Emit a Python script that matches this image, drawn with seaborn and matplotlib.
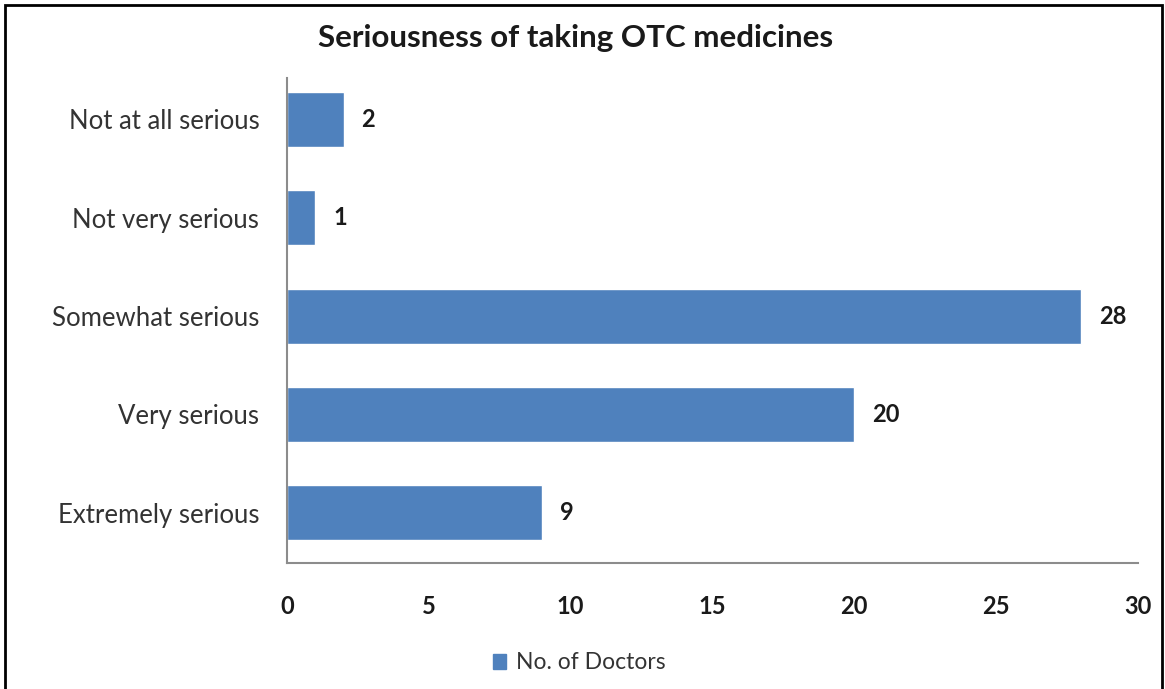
import matplotlib

matplotlib.use("Agg")
import matplotlib.pyplot as plt
import pandas as pd
import seaborn as sns
from matplotlib.patches import Rectangle

categories = [
    "Not at all serious",
    "Not very serious",
    "Somewhat serious",
    "Very serious",
    "Extremely serious",
]
doctors = [2, 1, 28, 20, 9]
x_ticks = [0, 5, 10, 15, 20, 25, 30]
series_name = "No. of Doctors"

BAR_COLOR = "#4F81BD"


def main():
    sns.set_theme(style="white")
    plt.rcParams["font.family"] = ["Lato", "DejaVu Sans"]

    df = pd.DataFrame({"category": categories, "count": doctors})

    fig = plt.figure(figsize=(11.65, 6.89), dpi=100)
    ax = fig.add_axes([0.2464, 0.1829, 0.7304, 0.7039])

    sns.barplot(
        data=df,
        x="count",
        y="category",
        order=categories,
        color=BAR_COLOR,
        saturation=1,
        width=0.56,
        ax=ax,
    )

    for i, v in enumerate(doctors):
        ax.text(v + 0.62, i, str(v), va="center", ha="left",
                fontsize=17, fontweight="bold", color="#1a1a1a")

    ax.set_xlim(0, 30)
    ax.set_ylim(4.51, -0.42)
    ax.set_xticks(x_ticks)
    ax.set_xticklabels([str(t) for t in x_ticks], fontsize=17,
                       fontweight="bold", color="#1a1a1a")
    ax.tick_params(axis="x", pad=23, length=0)
    ax.tick_params(axis="y", pad=20, length=0, labelsize=18.5, labelcolor="#333333")
    ax.set_xlabel("")
    ax.set_ylabel("")

    for side in ["top", "right"]:
        ax.spines[side].set_visible(False)
    for side in ["left", "bottom"]:
        ax.spines[side].set_color("#8c8c8c")
        ax.spines[side].set_linewidth(1.5)

    fig.text(0.494, 0.945, "Seriousness of taking OTC medicines",
             ha="center", va="center", fontsize=22.5, fontweight="bold",
             color="#1a1a1a")

    leg = fig.legend(
        handles=[Rectangle((0, 0), 1, 1, color=BAR_COLOR)],
        labels=[series_name],
        loc="center",
        bbox_to_anchor=(0.497, 0.038),
        frameon=False,
        handlelength=0.6,
        handleheight=0.6,
        handletextpad=0.4,
        fontsize=16.5,
    )
    for t in leg.get_texts():
        t.set_color("#333333")

    border = Rectangle((0.004, -0.01), 0.993, 1.003, transform=fig.transFigure,
                       fill=False, edgecolor="black", linewidth=2)
    fig.add_artist(border)

    fig.savefig("out.png", dpi=100)


if __name__ == "__main__":
    main()
